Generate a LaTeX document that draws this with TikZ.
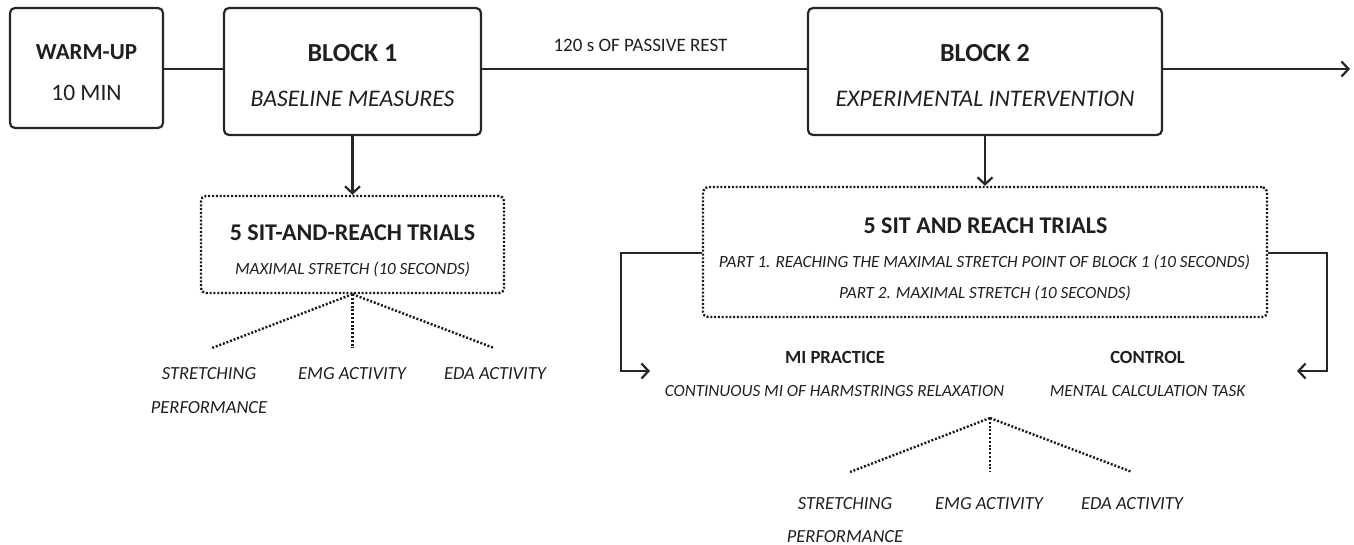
\documentclass[tikz,border=0pt]{standalone}
\usepackage{fontspec}
\setmainfont{Carlito}
\usetikzlibrary{arrows.meta}
\tikzset{
  solidbox/.style={draw=black!85, line width=2.2pt, rounded corners=5pt, inner sep=0pt},
  dotbox/.style={draw=black!90, line width=2.4pt, rounded corners=5pt, inner sep=0pt, dash pattern=on 2pt off 1.8pt},
  conn/.style={draw=black!85, line width=2.2pt},
  dotconn/.style={draw=black!90, line width=2.4pt, dash pattern=on 2pt off 1.8pt},
  barb/.style={-{Straight Barb[length=7pt,width=15pt,line width=2.2pt]}},
  arr/.style={conn, barb},
  txt/.style={anchor=base, inner sep=0pt, text=black!88},
  big/.style={txt, font=\fontsize{26}{26}\selectfont\bfseries},
  warmf/.style={txt, font=\fontsize{23}{23}\selectfont\bfseries},
  mid/.style={txt, font=\fontsize{24}{25}\selectfont\bfseries},
  sub/.style={txt, font=\fontsize{23.5}{25}\selectfont},
  subit/.style={txt, font=\fontsize{23.8}{25}\selectfont\itshape},
  smb/.style={txt, font=\fontsize{18.6}{20}\selectfont\bfseries},
  sm/.style={txt, font=\fontsize{19}{20}\selectfont},
  smit/.style={txt, font=\fontsize{18.5}{20}\selectfont\itshape},
  tinyit/.style={txt, font=\fontsize{17.1}{20}\selectfont\itshape},
}
\begin{document}
\begin{tikzpicture}[x=1pt,y=-1pt]
\useasboundingbox (0,0) rectangle (1354,545);
% boxes
\node[solidbox, minimum width=153pt, minimum height=120pt] (warm) at (86.5,68) {};
\node[solidbox, minimum width=257pt, minimum height=127pt] (b1) at (352.5,71.5) {};
\node[solidbox, minimum width=354pt, minimum height=127pt] (b2) at (985,71.5) {};
\node[dotbox, minimum width=303pt, minimum height=97pt] (s1) at (352.5,244.5) {};
\node[dotbox, minimum width=564pt, minimum height=130pt] (s2) at (985,252) {};
% texts
\node[warmf] (tw1) at (86.5,60) {WARM-UP};
\node[sub] (tw2) at (86.5,101) {10 MIN};
\node[big] (tb1) at (352.5,62) {BLOCK 1};
\node[subit] (tb1b) at (352.5,106.5) {BASELINE MEASURES};
\node[big] (tb2) at (985,62) {BLOCK 2};
\node[subit] (tb2b) at (985,106.5) {EXPERIMENTAL INTERVENTION};
\node[sm] (rest) at (640.5,51.7) {120 s OF PASSIVE REST};
\node[mid] (ts1) at (352.5,240.5) {5 SIT-AND-REACH TRIALS};
\node[tinyit] (ts1b) at (352.5,275) {MAXIMAL STRETCH (10 SECONDS)};
\node[mid] (ts2) at (985.5,233.5) {5 SIT AND REACH TRIALS};
\node[tinyit] (ts2a) at (984.5,268) {PART 1. REACHING THE MAXIMAL STRETCH POINT OF BLOCK 1 (10 SECONDS)};
\node[tinyit] (ts2b) at (985,298.5) {PART 2. MAXIMAL STRETCH (10 SECONDS)};
\node[smb] (mi) at (835,363.5) {MI PRACTICE};
\node[tinyit] (mib) at (834.5,396) {CONTINUOUS MI OF HARMSTRINGS RELAXATION};
\node[smb] (ctl) at (1147.5,363.5) {CONTROL};
\node[tinyit] (ctlb) at (1147.5,396) {MENTAL CALCULATION TASK};
% outcome labels block 1
\node[smit] (l1a) at (209,379) {STRETCHING};
\node[smit] (l1b) at (209,413.5) {PERFORMANCE};
\node[smit] (l1c) at (352,379) {EMG ACTIVITY};
\node[smit] (l1d) at (495,379) {EDA ACTIVITY};
% outcome labels block 2
\node[smit] (l2a) at (845,509) {STRETCHING};
\node[smit] (l2b) at (845,542) {PERFORMANCE};
\node[smit] (l2c) at (989,509) {EMG ACTIVITY};
\node[smit] (l2d) at (1132,509) {EDA ACTIVITY};
% coordinates
\coordinate (lineY) at (0,69);
\coordinate (endR) at (1350,69);
\coordinate (o1a) at (212,348);
\coordinate (o1c) at (352.5,348);
\coordinate (o1d) at (494,348);
\coordinate (apex) at (990,418);
\coordinate (o2a) at (850,472);
\coordinate (o2c) at (990,472);
\coordinate (o2d) at (1132,472);
\coordinate (brY) at (0,253);
\coordinate (lcorner) at (621,253);
\coordinate (lbot) at (621,371);
\coordinate (ltip) at (650,371);
\coordinate (rcorner) at (1327,253);
\coordinate (rbot) at (1327,371);
\coordinate (rtip) at (1297,371);
% connectors
\draw[conn] (warm.east |- lineY) -- (b1.west |- lineY);
\draw[conn] (b1.east |- lineY) -- (b2.west |- lineY);
\draw[arr] (b2.east |- lineY) -- (endR);
\draw[arr] (b1.south) -- (s1.north);
\draw[arr] (b2.south) -- (s2.north);
\draw[arr] (s2.west |- brY) -- (lcorner) -- (lbot) -- (ltip);
\draw[arr] (s2.east |- brY) -- (rcorner) -- (rbot) -- (rtip);
\draw[dotconn] (s1.south) -- (o1a);
\draw[dotconn] (s1.south) -- (o1c);
\draw[dotconn] (s1.south) -- (o1d);
\draw[dotconn] (apex) -- (o2a);
\draw[dotconn] (apex) -- (o2c);
\draw[dotconn] (apex) -- (o2d);
\end{tikzpicture}
\end{document}
